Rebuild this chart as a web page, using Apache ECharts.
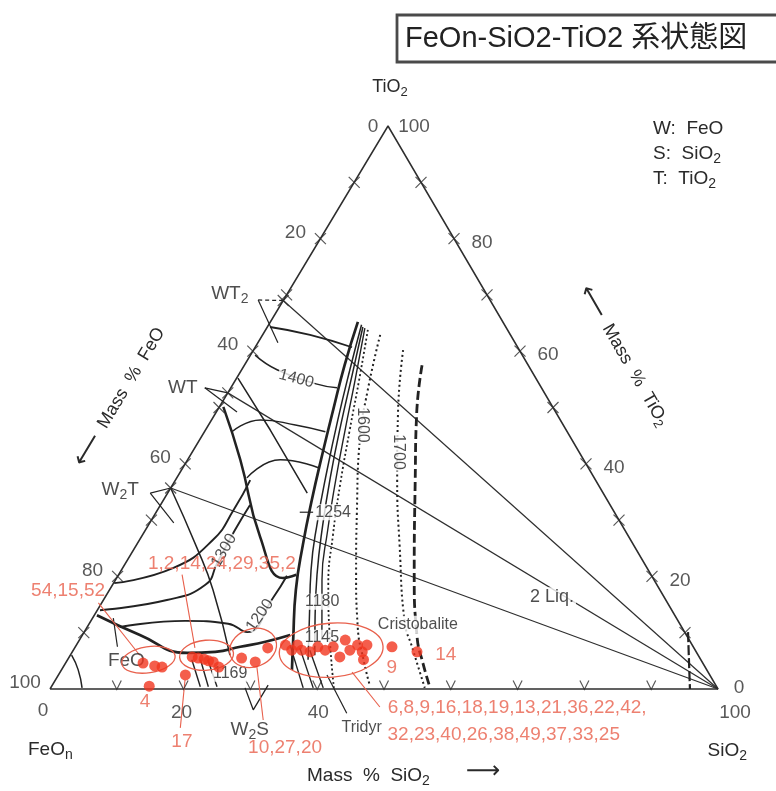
<!DOCTYPE html>
<html>
<head>
<meta charset="utf-8">
<script src="https://cdn.jsdelivr.net/npm/echarts@6/dist/echarts.min.js"></script>
<style>
html, body { margin: 0; padding: 0; background: #fff; }
#chart { width: 776px; height: 791px; }
</style>
</head>
<body>
<div id="chart"></div>
<script>
// compositions are [SiO2 %, TiO2 %], FeO is the rest
var SKEW = 0.506; // apex of the scanned triangle sits a little right of centre

var triangle = [[0, 0], [100, 0], [0, 100], [0, 0]];
var silicaVertex = [100, 0];
var compoundNames = ['WT2', 'WT', 'W2T'];
var compoundTiO2 = [69, 52.6, 35.7];

var tickSteps = [10, 20, 30, 40, 50, 60, 70, 80, 90];
var feoTickValues = [0, 20, 40, 60, 80, 100];
var tio2TickValues = [100, 80, 60, 40, 20, 0];
var sio2TickValues = [0, 20, 40, 100];

// boundary curves / isotherms
var boundaryB1 = [[13.1, 65.2], [15.0, 57.5], [17.3, 49.6], [19.7, 41.6], [22.2, 33.6], [24.9, 25.6], [27.9, 17.6], [32.0, 8.7], [34.5, 3.4]];
var boundaryB2 = [[13.9, 64.7], [16.2, 56.7], [18.9, 47.8], [21.8, 38.9], [24.9, 30.0], [28.4, 21.1], [32.6, 12.3], [36.0, 5.2]];
var boundaryB3 = [[14.3, 64.3], [17.0, 55.8], [19.8, 46.9], [22.8, 38.0], [26.1, 29.1], [29.7, 20.3], [33.9, 11.4], [36.6, 6.0]];
var boundaryB4 = [[14.7, 64.1], [17.9, 54.9], [20.9, 46.0], [24.0, 37.1], [27.3, 28.2], [30.9, 19.4], [36.3, 8.7]];
var boundaryB5 = [[15.3, 63.8], [18.5, 54.9], [21.7, 45.7], [25.1, 36.2], [28.5, 27.4], [32.3, 18.5], [37.5, 8.7], [42.4, 0.2]];
var iso1600 = [[17.6, 62.9], [20.7, 53.1], [24.0, 44.2], [30.1, 31.3], [35.4, 20.6], [40.5, 11.0], [44.3, 5.2], [47.5, 0.7]];
var iso1700 = [[22.4, 60.2], [27.3, 49.0], [33.2, 37.1], [39.6, 25.2], [47.2, 11.7], [50.4, 7.5], [56.0, 0.2]];
var twoLiquid = [[26.6, 57.5], [30.1, 49.0], [35.9, 37.1], [44.1, 20.6], [50.3, 9.2], [53.5, 4.6], [56.8, 0.2]];
var nearSilica = [[90.4, 10.1], [95.8, 0]];
var rutileLine = [[0.4, 64.3], [7.1, 62.9], [14.5, 60.7]];
var iso1400 = [[0.7, 59.3], [5.3, 56.7], [12.4, 54.2], [15.9, 53.5]];
var arrowLine = [[0.2, 55.2], [9.7, 46.0], [20.9, 34.8]];
var wtLine = [[0.6, 50.1], [7.9, 40.7], [17.8, 27.0], [24.9, 19.7], [26.6, 20.3]];
var isoUpper = [[4.1, 45.7], [7.3, 47.8], [13.0, 46.9], [18.1, 45.7]];
var isoMid = [[10.5, 37.5], [13.9, 40.7], [20.3, 39.3]];
var wustiteArc = [[0.2, 6.0], [2.5, 3.4], [4.7, 0.2]];
var lowerBoundary = [[0.4, 13.1], [8.6, 9.6], [17.3, 6.4], [21.4, 6.6], [24.7, 7.5], [28.0, 8.4], [31.1, 9.6]];
var iso1200 = [[4.9, 11.0], [14.1, 12.1], [20.8, 11.6], [24.4, 10.1], [25.2, 16.2], [25.3, 20.1]];
var iso1300 = [[0.4, 14.0], [9.5, 15.8], [13.9, 18.5], [13.7, 22.4], [13.4, 28.2], [13.4, 32.7]];
var iso1400low = [[0.1, 18.8], [7.6, 21.5], [11.0, 26.5], [11.4, 32.0], [11.2, 37.1]];
var w2tLine = [[0, 35.7], [9.2, 25.2], [15.5, 17.6], [23.9, 6.0]];
var tridymiteLines = [[[32.0, 7.8], [37.8, 0.2]], [[33.7, 7.3], [39.3, 0.2]], [[35.4, 6.9], [40.8, 0.2]]];
var fayaliteLines = [[[18.6, 5.2], [22.3, 0.4]], [[19.9, 5.2], [23.5, 0.4]], [[21.0, 5.2], [24.8, 0.4]]];
var leader1254 = [[21.5, 31.4], [23.5, 31.4]];
var w2sMark = [[29.1, 0.2], [32.3, -3.7], [32.3, 0.7]];
var tridymiteLeader = [[40.2, 2.5], [46.6, -4.3]];
var feoArrow = [[3.1, 12.6], [6.3, 7.5]];
var wt2Leaders = [[[-3.8, 69.1], [0, 69]], [[-3.8, 69.1], [3.0, 61.5]]];
var wtLeaders = [[[-3.9, 53.5], [0, 52.6]], [[-3.9, 53.5], [3.1, 49.2]]];
var w2tLeaders = [[[-2.6, 34.8], [0, 35.7]], [[-2.6, 34.8], [3.6, 29.5]]];

// slag samples
var samplesFeO = [[11.6, 4.6], [13.6, 4.1], [14.8, 3.9]];
var sample4 = [[14.6, 0.5]];
var sample17 = [[19.0, 2.5]];
var samplesGroup2 = [[18.4, 5.7], [19.4, 5.5], [20.4, 5.3], [21.2, 5.0], [22.0, 4.8], [23.3, 3.9]];
var samplesGroup3 = [[25.9, 5.5], [28.3, 4.8], [28.9, 7.3]];
var samplesGroup4 = [[31.3, 7.8], [32.7, 6.9], [33.1, 7.8], [34.2, 6.9], [35.6, 6.6], [36.3, 7.5], [37.7, 6.9], [38.6, 7.5], [40.5, 5.7], [39.8, 8.7], [41.4, 6.9], [42.1, 7.8], [44.3, 5.2], [43.5, 7.8], [43.4, 6.6]];
var sample9 = [[47.4, 7.5]];
var sample14 = [[51.6, 6.6]];
var groupCentres = [[12.1, 5.2], [20.4, 6.0], [26.7, 7.3], [38.6, 6.9]];
var sampleLeaders = [
  [[-0.5, 15.3], [10.4, 6.0]],
  [[9.5, 20.3], [18.0, 7.3]],
  [[23.0, -6.9], [19.4, 1.6]],
  [[34.7, -5.5], [29.0, 3.9]],
  [[51.0, -3.2], [43.7, 3.0]]
];

// [text, SiO2, TiO2, rotate]
var phaseLabels = [
  ['WT2', -8.6, 70.2, 0], ['WT', -7.2, 53.5, 0], ['W2T', -7.4, 35.4, 0],
  ['FeO', 8.9, 5.0, 0], ['W2S', 33.6, -7.3, 0], ['Tridyr', 50.1, -6.8, 0],
  ['Cristobalite', 49.3, 11.4, 0], ['2 Liq.', 66.9, 16.3, 0]
];
var isothermLabels = [
  ['1400', 9.0, 55.1, -15], ['1600', 23.1, 46.9, -90], ['1700', 30.8, 42.1, -90],
  ['1254', 26.5, 31.4, 0], ['1180', 32.9, 15.5, 0], ['1145', 36.1, 9.1, 0],
  ['1169', 25.6, 2.7, 0], ['1200', 24.8, 13.1, 55], ['1300', 13.6, 24.6, 60]
];
var sampleLabels = [
  ['54,15,52', -6.1, 17.4], ['1,2,14,24,29,35,2', 14.5, 22.2], ['4', 15.4, -2.3],
  ['17', 24.5, -9.4], ['10,27,20', 40.5, -10.5], ['9', 49.3, 3.7], ['14', 56.2, 6.0]
];
var sampleListLabels = [
  ['6,8,9,16,18,19,13,21,36,22,42,', 52.2, -3.4],
  ['32,23,40,26,38,49,37,33,25', 54.6, -8.2]
];

var FONT = '"Liberation Sans", Arial, sans-serif';
var INK = '#222';
var RED = '#f1361f';
var RED_TEXT = '#e8604c';

function tern(p) { return [p[0] + SKEW * p[1], p[1]]; }

function chem(str) {
  var parts = str.split(/(\d+)/), out = '';
  for (var i = 0; i < parts.length; i++) {
    if (!parts[i]) continue;
    var isSub = /^\d+$/.test(parts[i]) && i > 0 && /[A-Za-z]$/.test(parts[i - 1]);
    out += (isSub ? '{s|' : '{n|') + parts[i] + '}';
  }
  return out;
}

function lineSeries(pts, width, type, smooth, color) {
  return {
    type: 'line', data: pts.map(tern), symbol: 'none', silent: true, clip: false,
    smooth: smooth || false, z: 3,
    lineStyle: { color: color || INK, width: width, type: type || 'solid' }
  };
}

function textSeries(items, label, z) {
  return {
    type: 'scatter', symbolSize: 1, clip: false, silent: true, z: z || 6,
    itemStyle: { color: 'rgba(0,0,0,0)' },
    data: items.map(function (it) {
      return {
        value: tern([it[1], it[2]]), name: it[0],
        label: { rotate: it[3] || 0, formatter: label.rich ? chem(it[0]) : it[0] }
      };
    }),
    label: Object.assign({ show: true, position: 'inside', fontFamily: FONT }, label)
  };
}

var series = [];
series.push(lineSeries(triangle, 1.5, 'solid', false, '#2e2e2e'));
compoundTiO2.forEach(function (t) {
  series.push(lineSeries([[0, t], silicaVertex], 1.2, 'solid', false, '#2e2e2e'));
});
series.push(lineSeries(boundaryB1, 2.7, 'solid', true));
series.push(lineSeries(boundaryB2, 1.5, 'solid', true));
series.push(lineSeries(boundaryB3, 1.5, 'solid', true));
series.push(lineSeries(boundaryB4, 1.4, 'solid', true));
series.push(lineSeries(boundaryB5, 1.8, [2, 2.5], true));
series.push(lineSeries(iso1600, 2, [2, 3], true));
series.push(lineSeries(iso1700, 2, [2, 3], true));
series.push(lineSeries(twoLiquid, 2.8, [9, 4], true));
series.push(lineSeries(nearSilica, 2.2, [10, 3], false));
series.push(lineSeries(rutileLine, 1.8, 'solid', true));
series.push(lineSeries(iso1400, 1.5, 'solid', true));
series.push(lineSeries(arrowLine, 1.5, 'solid', false));
series.push(lineSeries(wtLine, 2.5, 'solid', true));
series.push(lineSeries(isoUpper, 1.5, 'solid', true));
series.push(lineSeries(isoMid, 1.5, 'solid', true));
series.push(lineSeries(wustiteArc, 1.5, 'solid', true));
series.push(lineSeries(lowerBoundary, 2.7, 'solid', true));
series.push(lineSeries(iso1200, 1.9, 'solid', true));
series.push(lineSeries(iso1300, 1.9, 'solid', true));
series.push(lineSeries(iso1400low, 1.9, 'solid', true));
series.push(lineSeries(w2tLine, 1.5, 'solid', true));
tridymiteLines.concat(fayaliteLines).forEach(function (l) { series.push(lineSeries(l, 1.4)); });
series.push(lineSeries(leader1254, 1.2));
series.push(lineSeries(w2sMark, 1.3));
series.push(lineSeries(tridymiteLeader, 1.2));
series.push(lineSeries(feoArrow, 1.2));
wt2Leaders.concat(wtLeaders, w2tLeaders).forEach(function (l, i) {
  series.push(lineSeries(l, 1.2, i === 0 ? [4, 3] : 'solid'));
});

// edge ticks, plus the compound points on the FeO-TiO2 side
var leftTicks = tickSteps.map(function (f) { return [0, 100 - f]; });
var rightTicks = tickSteps.map(function (t) { return [100 - t, t]; });
var bottomTicks = tickSteps.map(function (s) { return [s, 0]; });
var compoundPoints = compoundTiO2.map(function (t) { return [0, t]; });
series.push({
  type: 'scatter', silent: true, z: 4, data: leftTicks.concat(rightTicks, compoundPoints).map(tern),
  symbol: 'path://M0,0L10,10M0,10L10,0', symbolSize: 11,
  itemStyle: { color: 'rgba(0,0,0,0)', borderColor: '#2e2e2e', borderWidth: 1.2 }
});
series.push({
  type: 'scatter', silent: true, z: 4, data: bottomTicks.map(tern),
  symbol: 'path://M0,0L5,9L10,0', symbolSize: [9, 9], symbolOffset: [0, -4],
  itemStyle: { color: 'rgba(0,0,0,0)', borderColor: '#2e2e2e', borderWidth: 1.2 }
});

// tick labels
var tickFont = { color: '#2e2e2e', fontSize: 19 };
series.push(textSeries(feoTickValues.map(function (f) {
  return [String(f), 0, 100 - f];
}), Object.assign({ offset: [-25, -6] }, tickFont)));
series[series.length - 1].data[0].label.offset = [-15, 1];
series.push(textSeries(tio2TickValues.map(function (t) {
  return [String(t), 100 - t, t];
}), Object.assign({ offset: [28, 4] }, tickFont)));
series[series.length - 1].data[0].label.offset = [26, 1];
series[series.length - 1].data[5].label.offset = [21, -1];
var sioOffsets = [[-7, 22], [-2, 24], [1, 24], [17, 24]];
series.push(textSeries(sio2TickValues.map(function (s) {
  return [String(s), s, 0];
}), Object.assign({}, tickFont)));
series[series.length - 1].data.forEach(function (d, i) { d.label.offset = sioOffsets[i]; });

// sample points
[samplesFeO, sample4, sample17, samplesGroup2, samplesGroup3, samplesGroup4, sample9, sample14].forEach(function (g) {
  series.push({
    type: 'scatter', silent: true, z: 8, clip: false, data: g.map(tern),
    symbol: 'circle', symbolSize: 11, itemStyle: { color: RED }
  });
});
sampleLeaders.forEach(function (l) { series.push(lineSeries(l, 1.1, 'solid', false, RED_TEXT)); });

// diagram labels
series.push(textSeries(phaseLabels, {
  color: INK, fontSize: 19,
  rich: {
    n: { fontSize: 19, color: INK, fontFamily: FONT },
    s: { fontSize: 14, color: INK, fontFamily: FONT, padding: [10, 0, 0, 0] }
  }
}));
series[series.length - 1].data.forEach(function (d) {
  if (d.name === 'Cristobalite' || d.name === 'Tridyr') { d.label.rich = { n: { fontSize: 16, color: INK, fontFamily: FONT } }; }
  if (d.name === '2 Liq.') { d.label.rich = { n: { fontSize: 18, color: INK, fontFamily: FONT } }; }
  if (d.name === 'Cristobalite' || d.name === '2 Liq.') { d.label.backgroundColor = '#fff'; d.label.padding = [1, 2]; }
});
series.push(textSeries(isothermLabels, {
  color: INK, fontSize: 16, backgroundColor: '#fff', padding: [0, 1]
}));
series.push(textSeries(sampleLabels, { color: RED_TEXT, fontSize: 19 }, 9));
series.push(textSeries(sampleListLabels, { color: RED_TEXT, fontSize: 19, align: 'left', position: 'right', distance: 0 }, 9));

var option = {
  animation: false,
  backgroundColor: '#fff',
  grid: { left: 50, right: 58, top: 126, bottom: 102, containLabel: false },
  xAxis: { type: 'value', min: 0, max: 100, show: false },
  yAxis: { type: 'value', min: 0, max: 100, show: false },
  series: series
};

var chart = echarts.init(document.getElementById('chart'));
chart.setOption(option);

function px(p) { return chart.convertToPixel({ gridIndex: 0 }, tern(p)); }

var richBig = function (size) {
  return {
    n: { fontSize: size, fontFamily: FONT, fill: '#2a2a2a' },
    s: { fontSize: Math.round(size * 0.72), fontFamily: FONT, fill: '#2a2a2a', padding: [Math.round(size * 0.55), 0, 0, 0] },
    r: { fontSize: size + 6, fontFamily: '"DejaVu Sans", sans-serif', fill: '#2a2a2a' }
  };
};

var graphics = [
  { type: 'rect', shape: { x: 397, y: 15, width: 420, height: 47 }, style: { fill: '#fff', stroke: '#4a4a4a', lineWidth: 2.8 } },
  { type: 'text', x: 405, y: 39, style: { text: 'FeOn-SiO2-TiO2 系状態図', fontSize: 29, fontFamily: '"Liberation Sans", "Noto Sans CJK JP", sans-serif', fill: '#222', verticalAlign: 'middle' } },
  { type: 'text', x: 390, y: 87, style: { text: chem('TiO2'), rich: richBig(18), align: 'center', verticalAlign: 'middle' } },
  { type: 'text', x: 653, y: 129, style: { text: '{n|W:  FeO}', rich: richBig(19), verticalAlign: 'middle' } },
  { type: 'text', x: 653, y: 154, style: { text: '{n|S:  }' + chem('SiO2'), rich: richBig(19), verticalAlign: 'middle' } },
  { type: 'text', x: 653, y: 179, style: { text: '{n|T:  }' + chem('TiO2'), rich: richBig(19), verticalAlign: 'middle' } },
  { type: 'text', x: 28, y: 750, style: { text: '{n|FeO}{s|n}', rich: richBig(19), verticalAlign: 'middle' } },
  { type: 'text', x: 747, y: 751, style: { text: chem('SiO2'), rich: richBig(19), align: 'right', verticalAlign: 'middle' } },
  { type: 'text', x: 307, y: 776, style: { text: '{n|Mass  %  }' + chem('SiO2'), rich: richBig(19), verticalAlign: 'middle' } },
  { type: 'text', x: 466, y: 772, style: { text: '{r|⟶}', rich: richBig(18), verticalAlign: 'middle' } },
  { type: 'text', x: 120, y: 397, rotation: 59 * Math.PI / 180, style: { text: '{r|⟵}{n|  Mass  %  FeO}', rich: richBig(18), align: 'center', verticalAlign: 'middle' } },
  { type: 'text', x: 624, y: 356, rotation: -60 * Math.PI / 180, style: { text: '{r|⟵}{n|  Mass  %  }' + chem('TiO2'), rich: richBig(18), align: 'center', verticalAlign: 'middle' } }
];

var ellipseShape = [[27, 13, 0.15], [27, 15, 0.08], [24, 19, 0.35], [52, 27, 0.08]];
groupCentres.forEach(function (c, i) {
  var q = px(c), e = ellipseShape[i];
  graphics.push({
    type: 'ellipse', x: q[0], y: q[1], rotation: e[2],
    shape: { cx: 0, cy: 0, rx: e[0], ry: e[1] },
    style: { fill: 'none', stroke: RED_TEXT, lineWidth: 1.3 }, z: 7
  });
});

chart.setOption({ graphic: graphics });

window.addEventListener('resize', function () { chart.resize(); });
</script>
</body>
</html>
